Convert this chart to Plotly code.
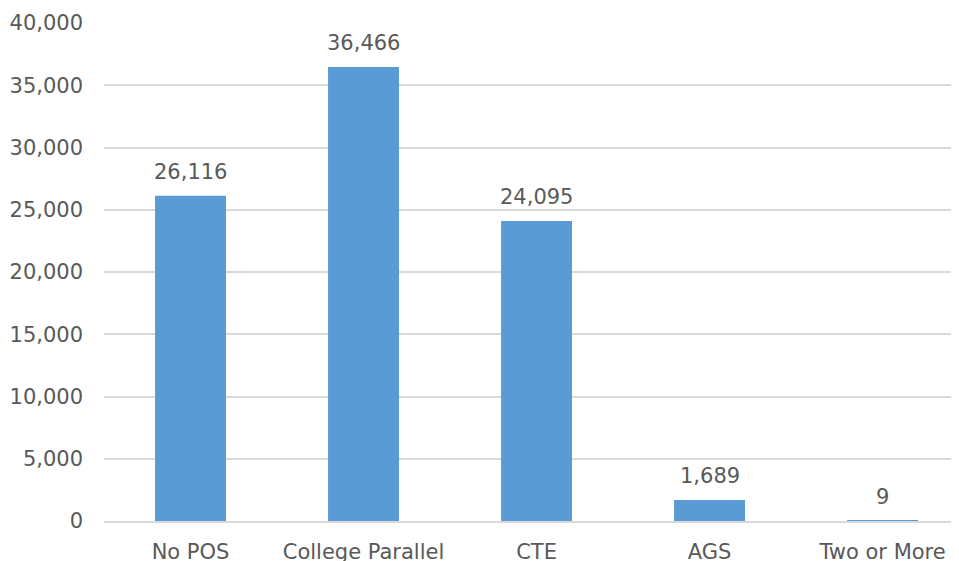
import plotly.graph_objects as go

categories = ["No POS", "College Parallel", "CTE", "AGS", "Two or More"]
values = [26116, 36466, 24095, 1689, 9]
y_ticks = [0, 5000, 10000, 15000, 20000, 25000, 30000, 35000, 40000]

FONT = "DejaVu Sans"
TEXT = "#595959"
GRID = "#D9D9D9"
BAR = "#5B9BD5"

fig = go.Figure(go.Bar(
    x=categories, y=values, marker_color=BAR, width=0.41,
    marker_line_width=0,
))

for c, v in zip(categories, values):
    fig.add_annotation(x=c, y=v, text=f"{v:,}", showarrow=False,
                       yanchor="bottom", yshift=10,
                       font=dict(family=FONT, size=21, color=TEXT))

fig.update_layout(
    width=951, height=553,
    margin=dict(l=96, r=1, t=15, b=40, autoexpand=False),
    plot_bgcolor="white", paper_bgcolor="white",
    showlegend=False,
    font=dict(family=FONT, size=21, color=TEXT),
)
fig.update_xaxes(range=[-0.5, 4.436], showgrid=False, showline=True,
                 linecolor=GRID, linewidth=1.5, ticks="", automargin=False,
                 ticklabelstandoff=11, tickfont=dict(size=21, color=TEXT))
fig.update_yaxes(range=[0, 40000], tickvals=y_ticks,
                 ticktext=[f"{t:,}" for t in y_ticks], automargin=False,
                 showgrid=True, gridcolor=GRID, gridwidth=1.5,
                 zeroline=False, showline=False, ticks="",
                 ticklabelstandoff=20, tickfont=dict(size=21, color=TEXT))

fig.write_html("out.html")
